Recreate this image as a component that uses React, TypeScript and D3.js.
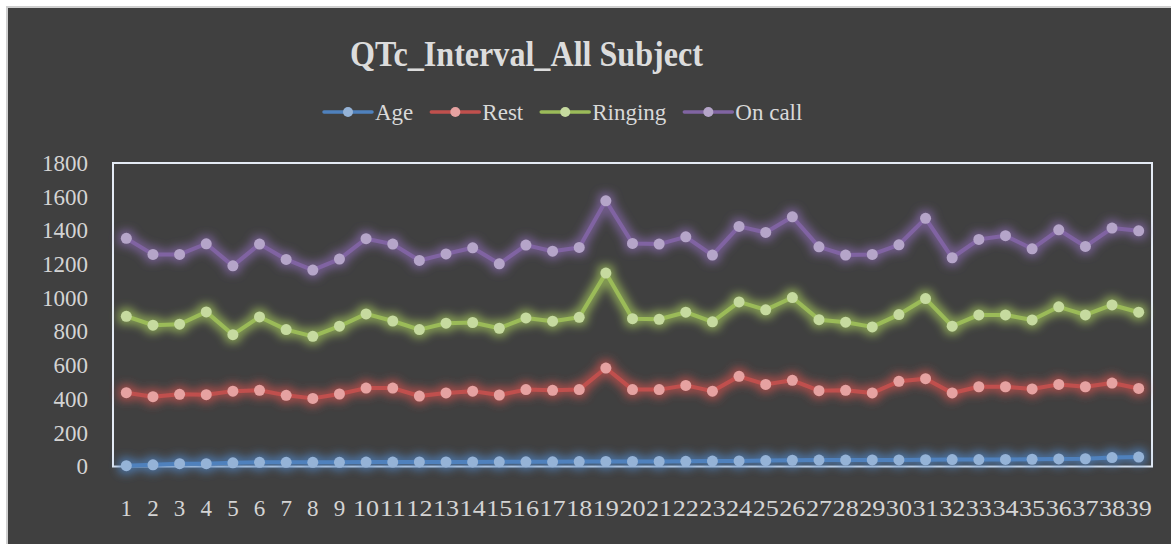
// QTc chart - line chart with glow, dark Excel style
import * as d3 from 'd3';
import React, { useRef, useEffect } from 'react';

const categories = ['1','2','3','4','5','6','7','8','9','10','11','12','13','14','15','16','17','18','19','20',
    '21','22','23','24','25','26','27','28','29','30','31','32','33','34','35','36','37','38','39'];

const age = [5,10,17,17,22,25,25,25,25,26,26,27,27,27,28,28,28,29,30,30,30,31,32,33,35,37,38,38,39,39,40,41,41,42,43,45,46,53,56];
const rest = [438,414,428,426,447,452,422,404,430,465,465,418,436,447,424,456,452,456,584,456,456,481,447,535,487,
    511,450,452,436,505,521,436,473,473,460,487,473,495,463];
const ringing = [891,838,844,917,782,887,812,772,832,905,863,812,850,854,820,881,862,885,1147,877,873,915,858,976,929,
    1002,871,856,828,901,996,832,899,899,869,947,899,958,915];
const onCall = [1353,1258,1258,1321,1190,1319,1228,1165,1230,1351,1319,1222,1261,1297,1202,1313,1277,1299,1576,1323,1319,1362,1254,1424,1388,
    1481,1303,1254,1258,1315,1472,1238,1347,1369,1291,1404,1305,1414,1398];

const yTicks = [0,200,400,600,800,1000,1200,1400,1600,1800];

const seriesNames = ['Age','Rest','Ringing','On call'];
const lineColors = ['#4f81bd','#c0504d','#9bbb59','#8064a2'];
const markerColors = ['#95b3d7','#e6a2a1','#c6da9f','#b5a5c9'];

const W = 1171, H = 544;
const plot = { left: 113, right: 1152, top: 163, bottom: 466.5 };

function Chart() {
    const ref = useRef(null);

    useEffect(() => {
        const svg = d3.select(ref.current);
        svg.selectAll('*').remove();

        const series = [age, rest, ringing, onCall];

        // page + chart background
        svg.append('rect').attr('width', W).attr('height', H).attr('fill', '#ffffff');
        svg.append('rect')
            .attr('x', 7).attr('y', 7).attr('width', W + 20).attr('height', H + 20)
            .attr('fill', '#404040').attr('stroke', '#cfcfcf').attr('stroke-width', 2);

        // glow filters
        const defs = svg.append('defs');
        lineColors.forEach((c, i) => {
            const f = defs.append('filter').attr('id', 'glow' + i)
                .attr('filterUnits', 'userSpaceOnUse')
                .attr('x', 0).attr('y', 0).attr('width', W).attr('height', H);
            f.append('feMorphology').attr('in', 'SourceAlpha').attr('operator', 'dilate').attr('radius', 3).attr('result', 'd');
            f.append('feGaussianBlur').attr('in', 'd').attr('stdDeviation', 4).attr('result', 'b');
            f.append('feFlood').attr('flood-color', c).attr('flood-opacity', 0.75).attr('result', 'fl');
            f.append('feComposite').attr('in', 'fl').attr('in2', 'b').attr('operator', 'in').attr('result', 'g');
            const m = f.append('feMerge');
            m.append('feMergeNode').attr('in', 'g');
            m.append('feMergeNode').attr('in', 'SourceGraphic');
        });

        const xScale = d3.scaleBand()
            .domain(categories)
            .range([plot.left, plot.right])
            .padding(0);
        const yScale = d3.scaleLinear()
            .domain([0, 1800])
            .range([plot.bottom, plot.top]);
        const cx = (c) => xScale(c) + xScale.bandwidth() / 2;

        // title
        svg.append('text')
            .attr('x', 526.5).attr('y', 66)
            .attr('text-anchor', 'middle')
            .attr('font-family', 'Liberation Serif')
            .attr('font-weight', 'bold')
            .attr('font-size', 35)
            .attr('textLength', 353)
            .attr('lengthAdjust', 'spacingAndGlyphs')
            .attr('fill', '#dcdcdc')
            .text('QTc_Interval_All Subject');

        // legend
        let lx = 324;
        const ly = 112;
        seriesNames.forEach((name, i) => {
            const g = svg.append('g');
            g.append('line').attr('x1', lx).attr('x2', lx + 48).attr('y1', ly).attr('y2', ly)
                .attr('stroke', lineColors[i]).attr('stroke-width', 3.5).attr('stroke-linecap', 'round');
            g.append('circle').attr('cx', lx + 24).attr('cy', ly).attr('r', 5).attr('fill', markerColors[i]);
            const t = g.append('text')
                .attr('x', lx + 51).attr('y', ly).attr('dy', '0.35em')
                .attr('font-family', 'Liberation Serif').attr('font-size', 23)
                .attr('fill', '#d9d9d9')
                .text(name);
            const tw = t.node().getComputedTextLength();
            lx = lx + 51 + tw + 18;
        });

        // plot area border
        svg.append('rect')
            .attr('x', plot.left).attr('y', plot.top)
            .attr('width', plot.right - plot.left).attr('height', plot.bottom - plot.top)
            .attr('fill', 'none').attr('stroke', '#e4ebf5').attr('stroke-width', 2);

        // axes
        const yAxis = svg.append('g')
            .attr('transform', 'translate(' + plot.left + ',0)')
            .call(d3.axisLeft(yScale).tickValues(yTicks).tickFormat(d3.format('d')).tickSize(0).tickPadding(25));
        yAxis.select('.domain').remove();
        yAxis.selectAll('text')
            .attr('font-family', 'Liberation Serif').attr('font-size', 23).attr('fill', '#d4d4d4');

        const xAxis = svg.append('g')
            .attr('transform', 'translate(0,' + plot.bottom + ')')
            .call(d3.axisBottom(xScale).tickSize(0).tickPadding(33));
        xAxis.select('.domain').remove();
        xAxis.selectAll('text')
            .attr('font-family', 'Liberation Serif').attr('font-size', 23).attr('fill', '#d4d4d4');
        // two-digit labels fill the whole category in the original
        xAxis.selectAll('text')
            .filter((d) => d.length > 1)
            .attr('textLength', xScale.bandwidth() - 0.5)
            .attr('lengthAdjust', 'spacingAndGlyphs');

        // series
        const line = d3.line()
            .x((d, i) => cx(categories[i]))
            .y((d) => yScale(d));

        series.forEach((data, s) => {
            const g = svg.append('g').attr('filter', 'url(#glow' + s + ')');
            g.append('path')
                .attr('d', line(data))
                .attr('fill', 'none')
                .attr('stroke', lineColors[s])
                .attr('stroke-width', 4)
                .attr('stroke-linejoin', 'round');
            g.selectAll('circle').data(data).enter().append('circle')
                .attr('cx', (d, i) => cx(categories[i]))
                .attr('cy', (d) => yScale(d))
                .attr('r', 5.5)
                .attr('fill', markerColors[s]);
        });
    }, []);

    return (
        <svg ref={ref} width={W} height={H} style={{ position: 'absolute', left: 0, top: 0 }}></svg>
    );
}

export default function App() {
    return <Chart />;
}
